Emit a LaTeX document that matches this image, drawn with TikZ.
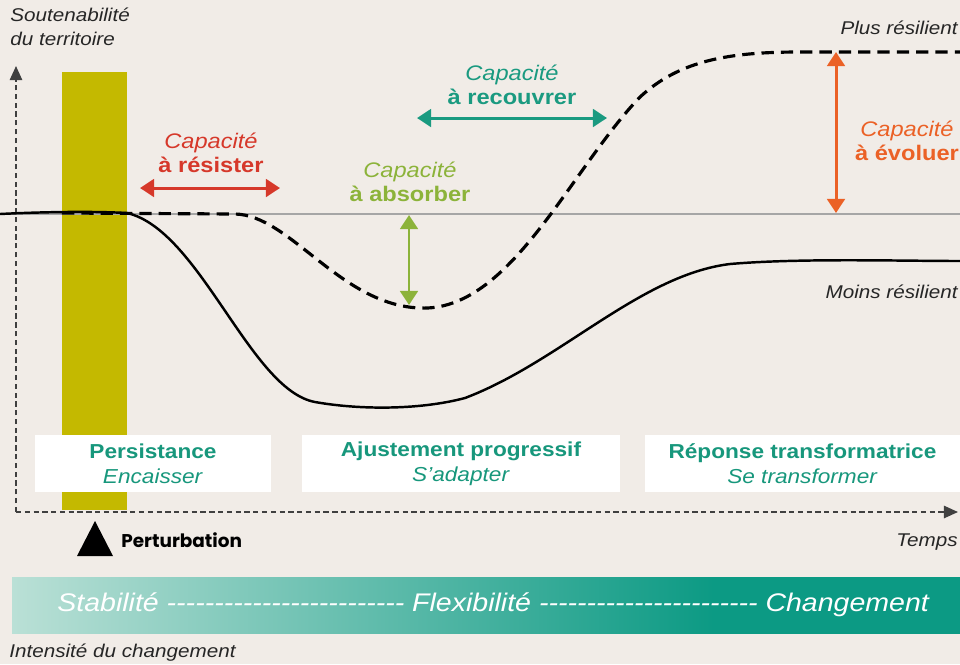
\documentclass[tikz,border=0pt]{standalone}
\usepackage{fontspec}
\setmainfont{Liberation Sans}[FakeStretch=1.12]
\newfontfamily\poppins{Poppins}
\usetikzlibrary{positioning,arrows.meta,calc}
\definecolor{bg}{HTML}{F1ECE7}
\definecolor{bar}{HTML}{C4B900}
\definecolor{teal}{HTML}{17977C}
\definecolor{capred}{HTML}{D6382A}
\definecolor{caplime}{HTML}{8CB33A}
\definecolor{capteal}{HTML}{1A9A80}
\definecolor{caporange}{HTML}{EB6126}
\definecolor{band_light}{HTML}{BAE0D6}
\definecolor{band_dark}{HTML}{0C9A84}
% band: light on the left, full teal from about 3/4 on
\pgfdeclarehorizontalshading{band_shade}{100bp}{color(0bp)=(band_light); color(25bp)=(band_light); color(62bp)=(band_dark); color(100bp)=(band_dark)}
% row of single hyphens (no dash ligatures)
\newcommand{\hyphrow}[1]{\foreach \i in {1,...,#1}{-\kern0pt}}
\tikzset{
    % small black labels
    lbl/.style = {inner sep=0pt, text=black!85, font=\fontsize{10.5}{13.6}\selectfont\itshape},
    % axes
    axis_line/.style = {draw=black!75, line width=1pt, dash pattern=on 3pt off 2pt, -{Triangle[width=7pt,length=8pt]}},
    % less resilient curve
    curve_less/.style = {draw=black, line width=1.4pt},
    % more resilient curve
    curve_more/.style = {draw=black, line width=1.8pt, dash pattern=on 7pt off 4pt},
    % capacity labels
    cap_text/.style = {align=center, inner sep=0pt, font=\fontsize{12}{13.6}\selectfont},
    cap_arrow/.style = {line width=1.7pt, {Triangle[width=10pt,length=8pt]}-{Triangle[width=10pt,length=8pt]}},
    % phase boxes
    phase_box/.style = {fill=white, align=center, inner sep=0pt, text=teal, minimum height=1.14cm, font=\fontsize{11.5}{14.2}\selectfont},
    % band words
    band_text/.style = {inner sep=0pt, text=white, font=\fontsize{14.5}{16}\selectfont\itshape}
}

\begin{document}
\begin{tikzpicture}[x=0.02cm, y=-0.02cm]

    \fill[bg] (0,0) rectangle (960,664);
    \useasboundingbox (0,0) rectangle (960,664);

    % perturbation bar and reference level
    \fill[bar] (62,72) rectangle (127,510);
    \draw[black!35, line width=0.6pt] (0,214) -- (960,214);

    % axes
    \coordinate (origin) at (16,512);
    \coordinate (y_end) at (16,66);
    \coordinate (x_end) at (958,512);
    \draw[axis_line] (origin) -- (y_end);
    \draw[axis_line] (origin) -- (x_end);

    % curves
    \draw[curve_less] (0,214) .. controls (40,212) and (90,211) .. (127,213)
        .. controls (200,230) and (250,390) .. (315,402)
        .. controls (360,410) and (420,410) .. (465,398)
        .. controls (560,362) and (640,275) .. (730,264)
        .. controls (800,258) and (900,261) .. (960,261);
    \draw[curve_more] (62,213) -- (235,214)
        .. controls (290,215) and (340,305) .. (420,308)
        .. controls (510,312) and (570,170) .. (640,97)
        .. controls (680,60) and (730,52) .. (800,52) -- (960,52);

    % axis labels
    \node[lbl, anchor=north west, align=left] (y_lbl) at (10,8) {Soutenabilité\\du territoire};
    \node[lbl, anchor=east] (t_lbl) at (958,542) {Temps};
    \node[lbl, anchor=east] (more_lbl) at (958,28) {Plus résilient};
    \node[lbl, anchor=east] (less_lbl) at (958,292) {Moins résilient};
    \node[lbl, anchor=west] (int_lbl) at (9,653) {Intensité du changement};

    % capacities
    \coordinate (res_l) at (140,188);
    \coordinate (res_r) at (280,188);
    \draw[cap_arrow, capred] (res_l) -- (res_r);
    \node[cap_text, text=capred] (res) at (211,153) {\textit{Capacité}\\\textbf{à résister}};

    \coordinate (abs_t) at (409,215);
    \coordinate (abs_b) at (409,305);
    \draw[cap_arrow, caplime] (abs_t) -- (abs_b);
    \node[cap_text, text=caplime] (abs) at (410,182) {\textit{Capacité}\\\textbf{à absorber}};

    \coordinate (rec_l) at (417,118);
    \coordinate (rec_r) at (607,118);
    \draw[cap_arrow, capteal] (rec_l) -- (rec_r);
    \node[cap_text, text=capteal] (rec) at (512,85) {\textit{Capacité}\\\textbf{à recouvrer}};

    \coordinate (evo_t) at (836,52);
    \coordinate (evo_b) at (836,213);
    \draw[cap_arrow, caporange] (evo_t) -- (evo_b);
    \node[cap_text, text=caporange] (evo) at (907,141) {\textit{Capacité}\\\textbf{à évoluer}};

    % phases
    \node[phase_box, minimum width=4.72cm] (persist) at (153,463.5) {\textbf{Persistance}\\\textit{Encaisser}};
    \node[phase_box, minimum width=6.36cm] (adjust) at (461,463.5) {\textbf{Ajustement progressif}\\\textit{S'adapter}};
    \node[phase_box, minimum width=6.3cm] (transf) at (802.5,463.5) {\textbf{Réponse transformatrice}\\\textit{Se transformer}};

    % perturbation
    \coordinate (tri_l) at (77,556);
    \coordinate (tri_t) at (95,521);
    \coordinate (tri_r) at (113,556);
    \fill[black] (tri_l) -- (tri_t) -- (tri_r) -- cycle;
    \node[anchor=west, inner sep=0pt, font=\poppins\bfseries\fontsize{10.5}{12}\selectfont] (pert) at (121,540) {Perturbation};

    % intensity band
    \begin{scope}[y=0.02cm]
        \shade[shading=band_shade] (12,-633) rectangle (960,-577);
    \end{scope}
    \node[band_text, anchor=west] (band) at (57,605) {Stabilité \hyphrow{25} Flexibilité \hyphrow{23} Changement};

\end{tikzpicture}
\end{document}
